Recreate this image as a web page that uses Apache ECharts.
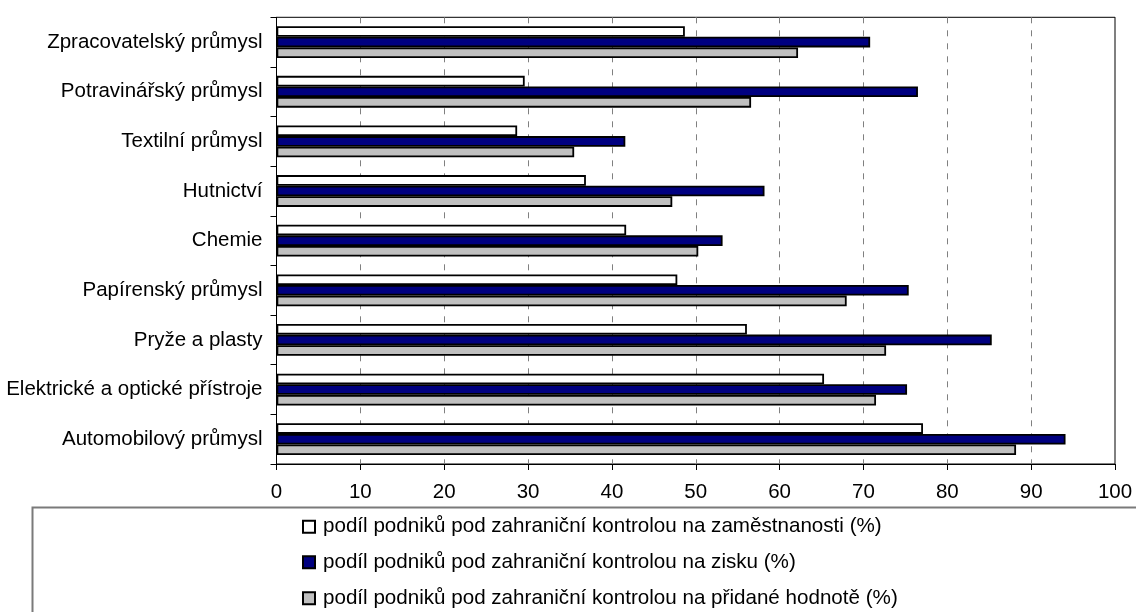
<!DOCTYPE html>
<html>
<head>
<meta charset="utf-8">
<script src="https://cdn.jsdelivr.net/npm/echarts@6/dist/echarts.min.js"></script>
<style>html,body{margin:0;padding:0;background:#fff}#c{width:1136px;height:612px}</style>
</head>
<body>
<div id="c"></div>
<script>
const categories = ["Zpracovatelský průmysl","Potravinářský průmysl","Textilní průmysl","Hutnictví","Chemie","Papírenský průmysl","Pryže a plasty","Elektrické a optické přístroje","Automobilový průmysl"];
const seriesNames = ["podíl podniků pod zahraniční kontrolou na zaměstnanosti (%)","podíl podniků pod zahraniční kontrolou na zisku (%)","podíl podniků pod zahraniční kontrolou na přidané hodnotě (%)"];
const employment = [48.7, 29.6, 28.7, 36.9, 41.7, 47.8, 56.1, 65.3, 77.1];
const profit = [70.8, 76.5, 41.6, 58.2, 53.2, 75.4, 85.3, 75.2, 94.1];
const addedValue = [62.2, 56.6, 35.5, 47.2, 50.3, 68.0, 72.7, 71.5, 88.2];
const colors = ["#FFFFFF", "#000080", "#C0C0C0"];

const font = "'Liberation Sans', Arial, sans-serif";
const chart = echarts.init(document.getElementById('c'), null, {renderer: 'canvas'});
const values = [employment, profit, addedValue];
const legendTops = [515.7, 551.3, 587.3];
chart.setOption({
  animation: false,
  backgroundColor: '#fff',
  grid: {left: 276.5, right: 21, top: 17.3, bottom: 148, show: true, borderColor: '#000', borderWidth: 1, containLabel: false, outerBoundsMode: 'none'},
  xAxis: {
    type: 'value', min: 0, max: 100, interval: 10,
    axisLine: {show: true, lineStyle: {color: '#000', width: 1}},
    axisTick: {show: true, length: 6, lineStyle: {color: '#000'}},
    axisLabel: {color: '#000', fontFamily: font, fontSize: 20.5, margin: 18},
    splitLine: {show: true, lineStyle: {color: '#808080', type: [6, 7], width: 1}}
  },
  yAxis: {
    type: 'category', data: categories, inverse: true,
    axisLine: {show: true, lineStyle: {color: '#000', width: 1}},
    axisTick: {show: true, length: 6, lineStyle: {color: '#000'}},
    axisLabel: {color: '#000', fontFamily: font, fontSize: 20.5, margin: 14},
    splitLine: {show: false}
  },
  legend: seriesNames.map((n, i) => ({
    orient: 'vertical', left: 302, top: legendTops[i], padding: 0,
    itemWidth: 12, itemHeight: 12,
    icon: 'rect',
    textStyle: {color: '#000', fontFamily: font, fontSize: 20.6, lineHeight: 22, padding: [0, 0, 0, 3]},
    data: [n]
  })),
  graphic: [{
    type: 'rect', shape: {x: 32.5, y: 507.5, width: 1200, height: 200},
    style: {fill: 'none', stroke: '#7a7a7a', lineWidth: 2}, z: -1
  }],
  series: seriesNames.map((n, i) => ({
    name: n, type: 'bar', data: values[i],
    barWidth: 10.6, barGap: '0%',
    itemStyle: {color: colors[i], borderColor: '#000', borderWidth: 1.8}
  }))
});
</script>
</body>
</html>
